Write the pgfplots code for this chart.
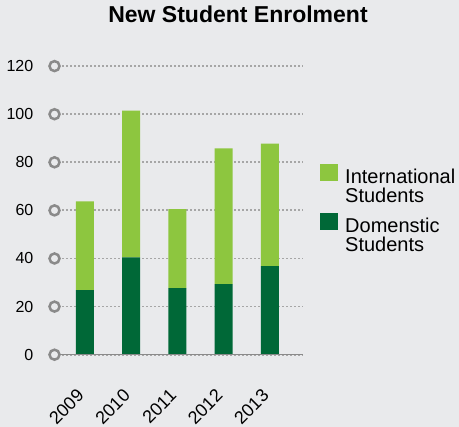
\documentclass[border=0pt]{standalone}
\usepackage{pgfplots}
\pgfplotsset{compat=1.18}
\usepackage{fontspec}
\setmainfont{Liberation Sans}
\definecolor{bg}{HTML}{E9EAEC}
\definecolor{lgreen}{HTML}{8DC63F}
\definecolor{dgreen}{HTML}{006837}
\definecolor{axgray}{HTML}{8A8A8A}
\definecolor{gridgray}{HTML}{A6A6A6}
\pgfplotsset{
  common/.style={
    at={(54.5pt,72.3pt)}, anchor=south west,
    scale only axis, width=248.5pt, height=288.6pt,
    xmin=-0.659, xmax=4.714, ymin=0, ymax=120,
    axis line style={draw=none},
    /pgf/number format/assume math mode=true,
  }
}
\begin{document}
\begin{tikzpicture}[x=1pt,y=1pt]
\fill[bg] (0,0) rectangle (459,427);
\useasboundingbox (0,0) rectangle (459,427);
\node[anchor=base, font=\bfseries\fontsize{23}{23}\selectfont] at (238,404) {New Student Enrolment};
% background: grid and y tick labels
\begin{axis}[common,
  xtick=\empty,
  ytick={0,20,...,120},
  major tick length=0pt,
  ymajorgrids,
  grid style={gridgray, line width=1.8pt, dash pattern=on 2pt off 2pt},
  yticklabel style={font=\fontsize{16}{16}\selectfont, anchor=east, inner sep=0pt, xshift=-21pt},
]
\addplot[draw=none, mark=none] coordinates {(0,0)};
\end{axis}
% bars
\begin{axis}[common,
  ybar stacked, bar width=18pt,
  ytick=\empty,
  xtick={0,1,2,3,4},
  xticklabels={2009,2010,2011,2012,2013},
  major tick length=0pt,
  xticklabel style={font=\fontsize{18}{18}\selectfont, xshift=-9pt, yshift=-33pt, rotate=45, anchor=north east, inner sep=0pt},
  legend cell align=left,
  reverse legend,
  legend style={at={(1.0684,0.6608)}, anchor=north west, draw=none, fill=none, inner sep=0pt,
    font=\fontsize{20}{18.5}\selectfont, row sep=9pt,
    nodes={align=left, inner sep=0pt},
    /tikz/every odd column/.append style={column sep=7pt}},
  legend image code/.code={\fill[#1] (0pt,5.5pt) rectangle (18pt,22.5pt);},
]
\addplot[fill=dgreen, draw=none] coordinates {(0,26.8) (1,40.5) (2,27.7) (3,29.3) (4,36.8)};
\addplot[fill=lgreen, draw=none] coordinates {(0,37.0) (1,61.0) (2,32.8) (3,56.5) (4,51.0)};
\legend{Domenstic\\Students, International\\Students}
\end{axis}
% axis line and circles
\begin{axis}[common, clip=false, xtick=\empty, ytick=\empty]
\addplot[axgray, line width=1.4pt, mark=none] coordinates {(-0.659,0) (4.714,0)};
\addplot[draw=axgray, only marks, mark=*, mark size=5pt, mark options={fill=bg, draw=axgray, line width=2.5pt}]
  coordinates {(-0.659,0) (-0.659,20) (-0.659,40) (-0.659,60) (-0.659,80) (-0.659,100) (-0.659,120)};
\end{axis}
\end{tikzpicture}
\end{document}
